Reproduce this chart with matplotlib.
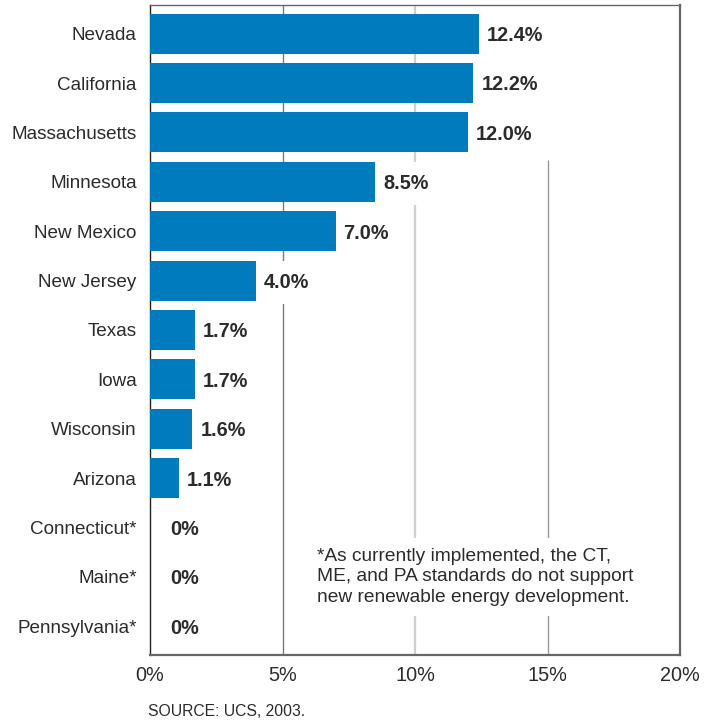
import matplotlib
matplotlib.use('Agg')
import matplotlib.pyplot as plt
import numpy as np

states = ['Nevada', 'California', 'Massachusetts', 'Minnesota', 'New Mexico',
          'New Jersey', 'Texas', 'Iowa', 'Wisconsin', 'Arizona',
          'Connecticut*', 'Maine*', 'Pennsylvania*']
targets = [12.4, 12.2, 12.0, 8.5, 7.0, 4.0, 1.7, 1.7, 1.6, 1.1, 0, 0, 0]
value_labels = ['12.4%', '12.2%', '12.0%', '8.5%', '7.0%', '4.0%', '1.7%',
                '1.7%', '1.6%', '1.1%', '0%', '0%', '0%']
x_ticks = [0, 5, 10, 15, 20]
x_tick_labels = ['0%', '5%', '10%', '15%', '20%']

footnote = ('*As currently implemented, the CT,\n'
            'ME, and PA standards do not support\n'
            'new renewable energy development.')
source = 'SOURCE: UCS, 2003.'

plt.rcParams['font.family'] = ['Liberation Sans', 'DejaVu Sans']

BLUE = '#007BBE'
TEXT = '#2b2b2b'

fig = plt.figure(figsize=(7.07, 7.21), dpi=100)
ax = fig.add_axes([0.2122, 0.0916, 0.7496, 0.9015])

y = np.arange(len(states))
ax.barh(y, targets, height=0.81, color=BLUE, zorder=3)

ax.set_xlim(0, 20)
ax.set_ylim(len(states) - 0.42, -0.58)

# vertical guides
ax.axvline(5, color='#7a7a7a', lw=1.0, zorder=0)
ax.axvline(10, color='#cfcfcf', lw=1.6, zorder=0)
ax.vlines(15, 2.55, len(states) - 0.42, color='#9a9a9a', lw=1.0, zorder=0)

for yi, v, lab in zip(y, targets, value_labels):
    xpos = v + 0.3 if v > 0 else 0.75
    ax.text(xpos, yi + 0.04, lab, ha='left', va='center', fontsize=14.3,
            fontweight='bold', color=TEXT, zorder=2,
            bbox=dict(boxstyle='square,pad=0.6', fc='white', ec='none'))

ax.text(6.3, 11.0, footnote, ha='left', va='center', fontsize=13.8,
        color=TEXT, linespacing=1.28, zorder=2,
        bbox=dict(boxstyle='square,pad=0.5', fc='white', ec='none'))

ax.set_yticks(y)
ax.set_yticklabels(states, fontsize=13.6, color=TEXT)
ax.set_xticks(x_ticks)
ax.set_xticklabels(x_tick_labels, fontsize=14.3, color=TEXT)
ax.tick_params(axis='y', length=0, pad=9.5)
ax.tick_params(axis='x', length=0, pad=8)

for side in ['top', 'right', 'bottom']:
    ax.spines[side].set_color('#666666')
    ax.spines[side].set_linewidth(1.6)
ax.spines['top'].set_linewidth(1.0)
ax.spines['left'].set_color('#222222')
ax.spines['left'].set_linewidth(1.0)

fig.text(148 / 707, 1 - 712 / 721, source, ha='left', va='center',
         fontsize=11.3, color=TEXT)

fig.savefig('out.png', dpi=100)
